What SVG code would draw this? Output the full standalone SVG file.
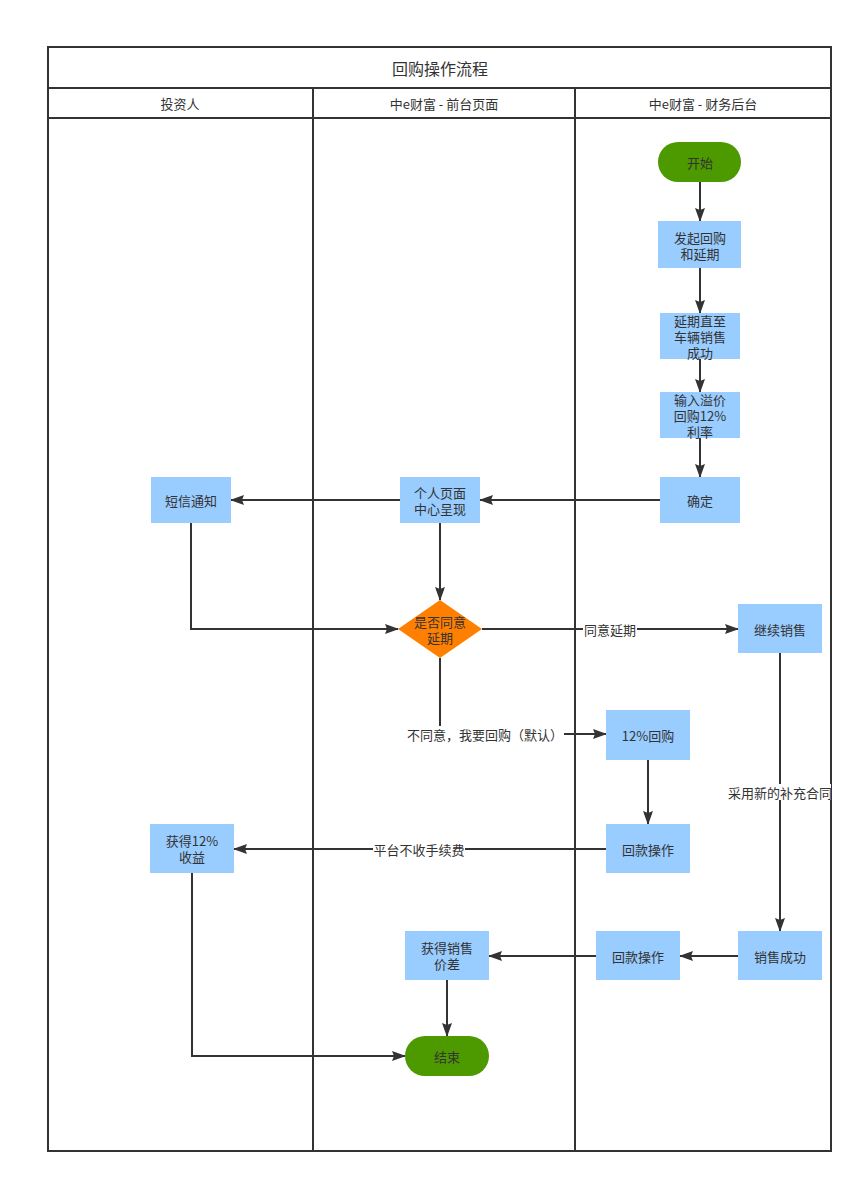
<svg xmlns="http://www.w3.org/2000/svg" width="863" height="1184" viewBox="0 0 863 1184">
  <style>
    text { font-family: "Noto Sans CJK SC", "Liberation Sans", sans-serif; font-size: 13px; fill: #333; text-anchor: middle; dominant-baseline: central; }
    .title { font-size: 16px; }
    .frame { fill: none; stroke: #333; stroke-width: 2; }
    .box { fill: #99ccff; }
    .term { fill: #4d9900; }
    .dec { fill: #ff8000; }
    .edge { fill: none; stroke: #333; stroke-width: 2; marker-end: url(#arr); }
    .lbl { fill: #fff; }
  </style>
  <defs>
    <marker id="arr" viewBox="0 0 14 10" refX="13" refY="5" markerWidth="14" markerHeight="10" markerUnits="userSpaceOnUse" orient="auto">
      <path d="M0,0 L14,5 L0,10 L2,5 Z" fill="#333"/>
    </marker>
  </defs>
  <rect width="863" height="1184" fill="#fff"/>

  <!-- swimlane frame -->
  <g id="pool">
    <rect class="frame" x="48" y="47" width="783" height="1104"/>
    <line class="frame" x1="48" y1="88" x2="831" y2="88"/>
    <line class="frame" x1="48" y1="118" x2="831" y2="118"/>
    <line class="frame" x1="313" y1="88" x2="313" y2="1151"/>
    <line class="frame" x1="575" y1="88" x2="575" y2="1151"/>
    <text class="title" x="440" y="68">回购操作流程</text>
    <text x="180" y="103">投资人</text>
    <text x="444" y="103">中e财富 - 前台页面</text>
    <text x="703" y="103">中e财富 - 财务后台</text>
  </g>

  <!-- connectors -->
  <g id="edges">
    <path class="edge" d="M700,182 V221"/>
    <path class="edge" d="M700,268 V313"/>
    <path class="edge" d="M700,359 V392"/>
    <path class="edge" d="M700,438 V477"/>
    <path class="edge" d="M660,500 H480"/>
    <path class="edge" d="M400,500 H231"/>
    <path class="edge" d="M440,523 V600"/>
    <path class="edge" d="M191,523 V629 H398"/>
    <path class="edge" d="M482,629 H738"/>
    <path class="edge" d="M440,658 V734 H606"/>
    <path class="edge" d="M648,760 V824"/>
    <path class="edge" d="M606,849 H234"/>
    <path class="edge" d="M780,653 V931"/>
    <path class="edge" d="M738,956 H680"/>
    <path class="edge" d="M596,956 H489"/>
    <path class="edge" d="M447,980 V1036"/>
    <path class="edge" d="M192,873 V1056 H405"/>
    <!-- connector labels -->
    <rect class="lbl" x="583" y="621" width="54" height="16"/>
    <text x="610" y="629">同意延期</text>
    <rect class="lbl" x="405" y="726" width="159" height="16"/>
    <text x="485" y="734">不同意，我要回购（默认）</text>
    <rect class="lbl" x="373" y="841" width="92" height="16"/>
    <text x="419" y="849">平台不收手续费</text>
    <rect class="lbl" x="727" y="784" width="104" height="16"/>
    <text x="780" y="792">采用新的补充合同</text>
  </g>

  <g id="start">
    <rect class="term" x="658" y="142" width="83" height="40" rx="20"/>
    <text x="700" y="162">开始</text>
  </g>
  <g id="initiate">
    <rect class="box" x="658" y="221" width="83" height="47"/>
    <text x="700" y="237">发起回购<tspan x="700" dy="16">和延期</tspan></text>
  </g>
  <g id="extend">
    <rect class="box" x="660" y="313" width="80" height="46"/>
    <text x="700" y="320">延期直至<tspan x="700" dy="16">车辆销售</tspan><tspan x="700" dy="16">成功</tspan></text>
  </g>
  <g id="rate">
    <rect class="box" x="660" y="392" width="80" height="46"/>
    <text x="700" y="399">输入溢价<tspan x="700" dy="16">回购12%</tspan><tspan x="700" dy="16">利率</tspan></text>
  </g>
  <g id="confirm">
    <rect class="box" x="660" y="477" width="80" height="46"/>
    <text x="700" y="500">确定</text>
  </g>
  <g id="personal">
    <rect class="box" x="400" y="477" width="80" height="46"/>
    <text x="440" y="492">个人页面<tspan x="440" dy="16">中心呈现</tspan></text>
  </g>
  <g id="sms">
    <rect class="box" x="151" y="477" width="80" height="46"/>
    <text x="191" y="500">短信通知</text>
  </g>
  <g id="agree">
    <polygon class="dec" points="440,600 482,629 440,658 398,629"/>
    <text x="440" y="621">是否同意<tspan x="440" dy="16">延期</tspan></text>
  </g>
  <g id="continue">
    <rect class="box" x="738" y="604" width="84" height="49"/>
    <text x="780" y="629">继续销售</text>
  </g>
  <g id="buyback">
    <rect class="box" x="606" y="710" width="84" height="50"/>
    <text x="648" y="735">12%回购</text>
  </g>
  <g id="refund1">
    <rect class="box" x="606" y="824" width="84" height="49"/>
    <text x="648" y="849">回款操作</text>
  </g>
  <g id="earn">
    <rect class="box" x="150" y="824" width="84" height="49"/>
    <text x="192" y="840">获得12%<tspan x="192" dy="16">收益</tspan></text>
  </g>
  <g id="sold">
    <rect class="box" x="738" y="931" width="84" height="49"/>
    <text x="780" y="956">销售成功</text>
  </g>
  <g id="refund2">
    <rect class="box" x="596" y="931" width="84" height="49"/>
    <text x="638" y="956">回款操作</text>
  </g>
  <g id="margin">
    <rect class="box" x="405" y="931" width="84" height="49"/>
    <text x="447" y="947">获得销售<tspan x="447" dy="16">价差</tspan></text>
  </g>
  <g id="end">
    <rect class="term" x="405" y="1036" width="84" height="40" rx="20"/>
    <text x="447" y="1056">结束</text>
  </g>
</svg>
